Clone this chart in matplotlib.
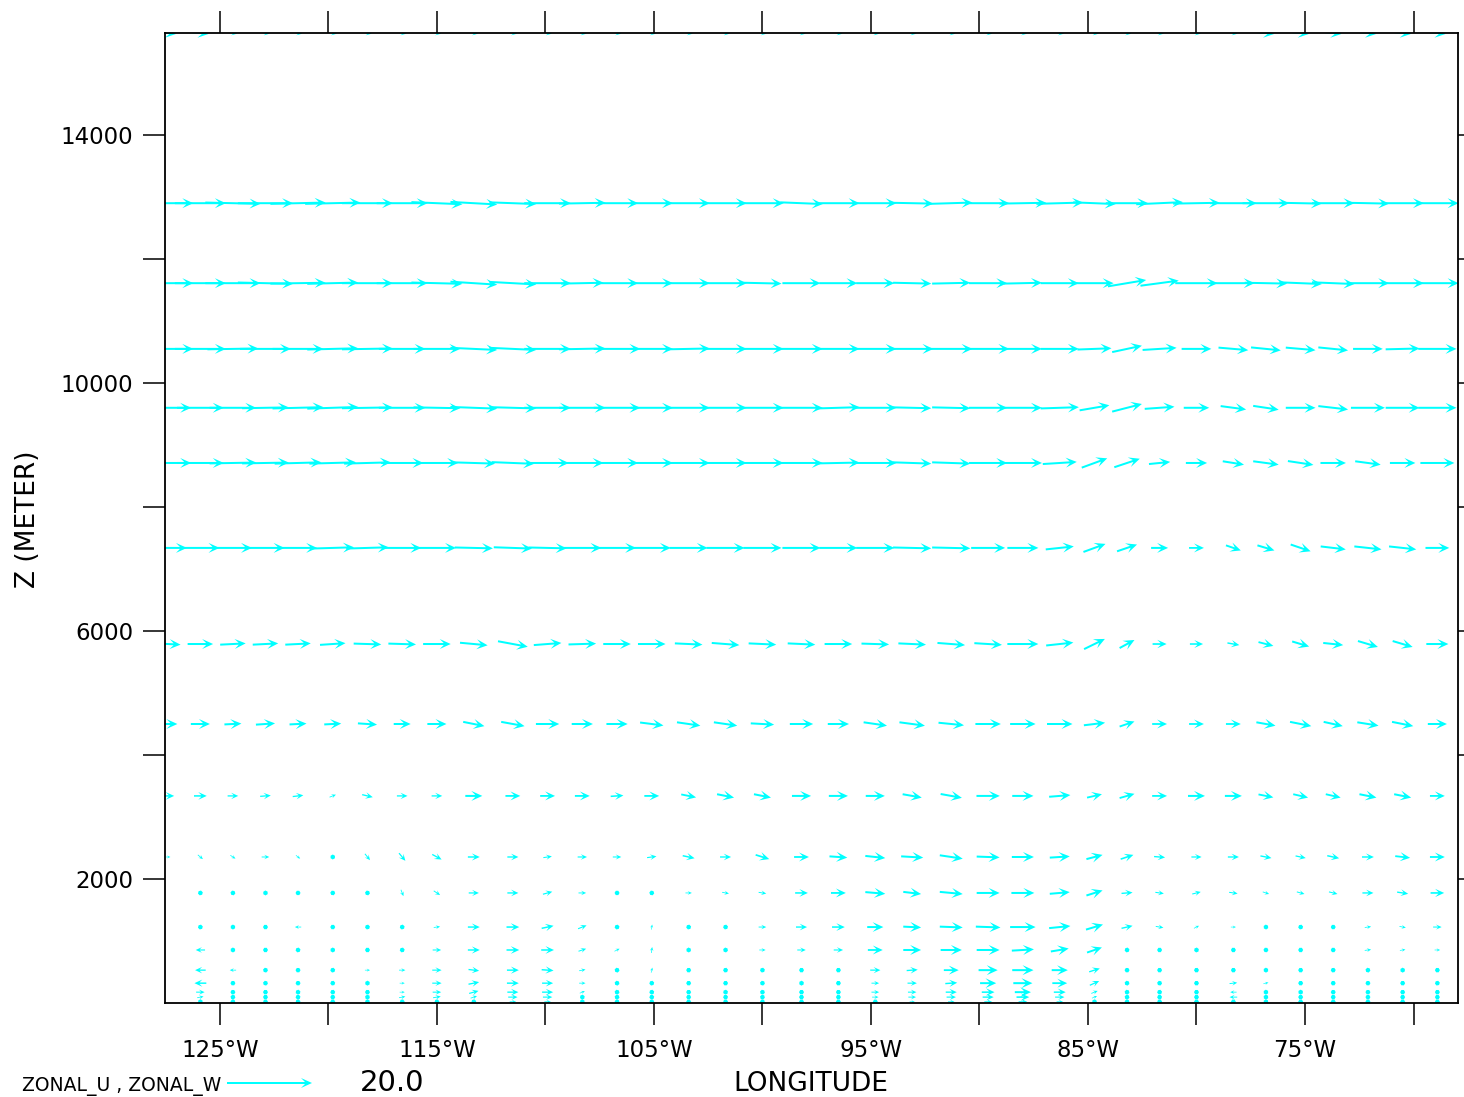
import matplotlib
matplotlib.use("Agg")
import matplotlib.pyplot as plt
from matplotlib.ticker import FixedLocator

nan = float("nan")

# longitude of each vector column (deg, negative = W)
lon = [-127.4, -125.9, -124.4, -122.9, -121.4, -119.8, -118.2, -116.6, -115.0,
       -113.3, -111.5, -109.9, -108.3, -106.7, -105.1, -103.4, -101.7, -100.0,
       -98.2, -96.5, -94.8, -93.1, -91.3, -89.6, -88.0, -86.3, -84.7, -83.2,
       -81.7, -80.0, -78.3, -76.8, -75.2, -73.7, -72.1, -70.5, -68.9]

# height of each vector row (m)
z_levels = [15645, 12900, 11610, 10550, 9600, 8710, 7340, 5790, 4500, 3340,
            2355, 1775, 1225, 855, 530, 320, 175, 95, 20]

# ZONAL_U per row (m/s); nan = no data drawn
u_rows = [
    [4, 4, 2, 2, 2, 2, 2, 2, 2, 2, 2, 2, 2, 2, 2, 2, 2, 2, 2, 2, 2, 2, 2, 2, 2, 2, 2, 2, 2, 2, 2, 4, 4, 4, 4, 4, 4],
    [12, 12, 13, 13, 13, 13, 12, 12, 12, 11, 11, 11, 11, 10, 10, 10, 10, 10, 10, 10, 10, 10, 10, 10, 11, 11, 10, 10, 11, 11, 11, 11, 10, 10, 10, 10, 10],
    [12, 12, 13, 13, 13, 12, 12, 12, 12, 11, 11, 11, 10, 10, 10, 10, 10, 9, 9, 9, 9, 9, 9, 9, 9, 9, 9, 9, 9, 10, 10, 10, 10, 10, 10, 10, 10],
    [12, 12, 12, 12, 12, 12, 12, 11, 11, 11, 11, 11, 11, 11, 10, 10, 10, 10, 10, 10, 10, 10, 10, 10, 9, 9, 8, 7, 8, 7, 7, 7, 7, 7, 7, 8, 9],
    [11, 11, 11, 11, 12, 12, 12, 11, 11, 11, 11, 11, 11, 11, 10, 10, 10, 10, 10, 10, 10, 9, 9, 9, 9, 9, 7, 7, 7, 6, 6, 6, 7, 7, 8, 8, 9],
    [11, 11, 11, 11, 11, 11, 11, 10, 10, 10, 10, 10, 10, 10, 10, 10, 10, 10, 10, 10, 10, 9, 9, 9, 9, 8, 6, 6, 5, 5, 5, 6, 6, 6, 6, 6, 8],
    [9, 9, 9, 9, 9, 10, 10, 9, 9, 9, 9, 9, 9, 9, 9, 9, 9, 9, 9, 9, 9, 9, 9, 8, 7.3, 6.6, 5.2, 4.7, 4, 3.5, 3.5, 4, 4.7, 5.9, 6.4, 6.4, 5.6],
    [6, 6, 6, 6, 6, 6, 6.5, 6.5, 6.5, 6.5, 7, 6.5, 6.5, 6.5, 6.5, 6.5, 6.5, 6.5, 6.5, 6.5, 6.5, 6.5, 6.5, 6.5, 7.3, 6.4, 4.9, 3.5, 3.3, 3.1, 2.8, 3.5, 4, 4.7, 4.7, 4.7, 5.2],
    [4.5, 4.5, 4, 4.5, 4, 4, 4.5, 4, 4.5, 5, 5.5, 5.5, 5, 5, 5.5, 5.5, 5.5, 5.5, 5.5, 5, 5.5, 6, 6, 6, 6, 6, 5, 3.5, 3.5, 3.5, 3.5, 4.5, 5, 4.5, 5, 5, 4.5],
    [3, 3, 2.5, 2.5, 2.5, 1.5, 2.5, 2.5, 2.5, 4, 3.5, 3.5, 3.5, 3, 3.5, 3.5, 4, 4, 4.5, 4.5, 4.5, 4.5, 5, 5.5, 5, 5, 3.5, 3.5, 3.5, 4, 4, 3.5, 3.5, 3.5, 4, 4, 3.5],
    [1.2, 1.2, 1.2, 1.8, 1, 1, 1.2, 1.5, 2.2, 2.8, 2.6, 2, 2.2, 2, 2.2, 2.8, 2.6, 3.2, 3.5, 4.2, 4.7, 5.2, 5.4, 5.4, 5.2, 4.7, 3.8, 3, 2.6, 2.4, 2.6, 2.6, 2.4, 2.8, 2.8, 3.5, 3.5],
    [nan, 0.8, 0.3, 0.8, 0.2, 0.6, 0.3, 0.6, 1.5, 2.4, 2.6, 2.2, 1.8, 0.8, 0.5, 1.5, 1.6, 1.8, 3, 3.5, 4.7, 4.2, 5.4, 5.4, 5.4, 4.7, 3.8, 2.6, 2, 2, 2, 1.5, 1.8, 2, 2.6, 2.6, 3.2],
    [nan, -0.5, 0, 0.1, -1.5, 0.1, 0.6, 0.7, 1.5, 2.8, 3, 2.8, 2, 1, 0.2, 0.8, 0.8, 1.8, 2.6, 3, 3.8, 4.2, 5.4, 5.8, 6, 5, 4, 2.6, 1.8, 1.2, 1.2, 0.8, 1, 0.8, 1.5, 1.5, 2],
    [nan, -2.2, 0.5, 0.8, 1, 0, 0.8, 1, 2, 2.8, 3, 3, 1.8, 1.2, 0.2, 0.6, 0.8, 1.5, 2, 2.2, 3.5, 4.2, 5, 5.4, 5.2, 4.2, 3.5, 0.8, 1, 1, 0.2, 0.3, 1, 0.6, 1.5, 1.3, 1.3],
    [nan, -2.5, -1.5, 0.5, 0.1, 0.3, 1.2, 1.5, 2.2, 2.5, 2.8, 2.8, 1.5, 0.8, 0.3, 0.1, 0.3, 0.5, 1, 1, 2.4, 2.6, 3.5, 4.5, 5, 3.8, 2.5, 0.8, 0.3, 0.3, 0.5, 0.5, 0.1, 0.3, 0.5, 0.5, 0.8],
    [nan, -2.8, 0.5, 0.5, 0.1, 0.3, 0.8, 1.2, 2.2, 2.5, 2.8, 2.6, 1.5, 0.6, 0.3, 0.1, 0.3, 0.4, 0.6, 1, 1.8, 2.2, 2.8, 3.8, 4.5, 3.5, 2.2, 0.8, 0.2, 0.1, 1.8, 1.2, 0.5, 0.3, 0.1, 0.8, 1],
    [nan, 2, -1, 0.3, 0.1, 0.4, 0.5, 1.2, 2, 2.2, 2.6, 2.6, 1.2, 0.5, 0.2, 0.1, 0.1, 0.4, 0.3, 0.6, 1.8, 2, 2.6, 3, 3.8, 2.8, 1.5, 0.5, 0.2, 0.1, -1.5, 0.8, -0.5, 0.1, 0.1, 0.6, 0.8],
    [nan, 1.5, 0.5, 0.2, 0.2, 0.5, 0.8, 1.5, 1.8, 1.5, 2.2, 2.2, 1, 0.4, 0.2, 0.1, 0.2, 0.3, 0.3, 0.5, 1.5, 1.8, 2.2, 2.6, 3, 2.2, 1.2, 0.4, 0.2, 0.1, -1.8, 0.6, 0.3, 0.1, 0.1, 0.5, 0.6],
    [nan, 1, 0.5, 0.1, 0.1, 0.3, 0.5, 1, 1, 1, 1.5, 1.5, 0.6, 0.3, 0.1, 0.1, 0.1, 0.2, 0.2, 0.3, 1, 1.2, 1.5, 1.8, 2, 1.5, 0.8, 0.3, 0.1, 0.1, -1, 0.4, 0.2, 0.1, 0.1, 0.3, 0.4],
]

# ZONAL_W per row (scaled, same arrow units as u)
w_rows = [
    [-0.4, -0.4, -0.3, -0.3, -0.3, -0.3, -0.3, -0.3, -0.3, -0.3, -0.3, -0.3, -0.3, -0.3, -0.3, -0.3, -0.3, -0.3, -0.3, -0.3, -0.3, -0.3, -0.3, -0.3, -0.3, -0.3, -0.3, -0.3, -0.3, -0.3, -0.3, -0.4, -0.4, -0.4, -0.4, -0.4, -0.4],
    [0, 0, -0.3, 0, 0.3, 0.3, 0, 0, -0.5, -0.6, -0.4, 0, 0.2, 0, 0, 0, 0, 0, -0.4, 0, 0, -0.2, 0.3, 0, 0.2, 0.3, -0.4, 0, 0.5, 0.2, 0, 0, -0.2, 0, -0.2, 0, 0],
    [0, 0, 0, -0.3, 0.2, 0.3, 0, 0, -0.3, -0.7, -0.6, 0, 0.2, 0, 0, 0, 0, -0.2, 0, 0, 0, -0.2, 0.2, 0, 0.2, 0, 0, 1.5, 1.2, 0, 0, -0.2, -0.4, -0.4, 0, 0, 0],
    [0, 0, 0.2, 0, 0, 0.3, 0.2, 0, 0, -0.5, -0.5, 0, 0.2, 0, 0, 0.2, 0, 0, 0, 0, 0, 0, 0, 0, 0, 0, 0.3, 1.5, 0.5, 0, -0.6, -0.7, -0.6, -0.7, 0, 0.2, 0],
    [0, 0, 0, 0.2, 0.3, 0.4, 0.2, 0, -0.2, -0.4, -0.3, 0, 0, 0, 0, 0, 0, 0, 0, 0.3, 0, -0.2, -0.2, 0, 0, 0.3, 1.2, 1.8, 0.5, 0, -0.8, -0.9, 0, -0.8, 0, 0, 0],
    [0, 0, 0.2, 0.2, 0.3, 0.3, 0.3, 0, 0, -0.3, -0.4, 0, 0, 0, 0, 0, 0, 0, 0, 0.2, 0, -0.3, -0.3, 0, 0, 0.5, 2.2, 2, 0.5, 0, -0.8, -0.8, -0.9, 0, -0.8, 0, 0],
    [0, 0, 0, 0, 0, 0.3, 0.3, 0, 0, -0.2, -0.3, -0.2, 0, 0, 0, 0, 0, 0, 0, 0, 0, -0.2, -0.2, 0, 0, 0.7, 1.9, 1.6, 0, 0, -1.2, -1.2, -1.6, -0.7, -0.7, -0.7, 0],
    [-0.3, 0, 0.3, 0.3, 0.3, 0.4, -0.2, -0.2, 0, -0.6, -1.3, 0.5, 0.2, 0, 0, -0.3, -0.5, -0.3, -0.3, 0, -0.2, -0.3, -0.5, -0.4, 0, 0.7, 2.4, 1.9, 0, 0, -0.5, -0.9, -1.2, -0.5, -1.4, -1.4, 0],
    [0, 0, 0.2, 0.3, 0.2, 0.2, -0.3, 0, 0, -1, -1, 0, 0, 0, -0.7, -0.8, -0.8, -0.3, 0, 0, -0.8, -0.8, -0.6, 0, 0, 0, 0.6, 1.2, 0, 0, 0, -0.8, -1, -1, -0.8, -1, 0],
    [0, 0, 0, 0.2, 0.3, 0.6, -0.6, 0, 0, 0, 0, 0, 0, 0.2, 0, -0.7, -0.8, -0.8, 0, 0, 0, -0.8, -0.9, 0, 0, 0.4, 0.8, 1, 0, 0, 0, -0.7, -0.8, -0.8, -0.8, -0.8, 0],
    [0, -1, -0.8, 0, -0.8, -0.6, -1.5, -1.8, -1.2, 0, 0, 0.3, 0, 0, 0.3, -0.6, 0, -1, 0, -0.3, -0.5, -0.3, -0.8, -0.2, 0, 0.3, 1, 1, -0.2, 0, 0, -0.5, -0.5, -0.6, 0, -0.4, 0],
    [nan, -0.8, -0.8, 0.5, 0, 0.8, -1, -1.5, -1, 0, 0, 0.6, 0, 0, 0.6, 0, -0.3, -0.3, 0, 0, -0.4, -0.5, -0.5, 0, 0, 0.4, 1.2, 0.2, -0.3, 0.5, -0.3, -0.5, -0.5, -0.5, 0, -0.4, 0],
    [nan, 0.5, -0.3, 0, 0, 0, -0.6, -0.6, 0.2, 0, 0, 0.6, 0.8, 0.2, 1.2, 0.2, 0.2, 0, 0, 0, 0, -0.2, -0.2, -0.2, 0, 0.5, 1.2, 0.6, -0.3, 0.6, 0, -0.4, 0.2, 0, 0.2, -0.3, 0],
    [nan, 0, 0.3, 0, 0.2, 1, 0, 0.2, 0, 0, 0, 0, 0.6, 0.6, 1.4, -0.3, -0.3, 0, 0, 0, 0, 0, 0, 0, 0.3, 0.7, 1.2, 0.3, 0, 0.4, 0, -0.6, 0, 0, 0.2, 0.2, 0],
    [nan, 0, 0, 0.5, 0, 1, 0, 0, 0, -0.3, 0, -0.2, 0.3, 0.8, 1.2, 0, 0.8, -0.5, 0, 0, 0, 0.2, 0, 0, 0, 0, 0.8, 0, 0.5, 0.6, 0, 0.3, 0, 0.6, 0.5, 0.3, 0],
    [nan, 0, 0, 0.5, 0, 0.8, -0.5, 0, 0, 0.5, 0, 0, 0, 0.5, 1, 0, 0.6, 0.4, -0.4, 0, 0, 0, 0.2, 0, 0, 0, 1, -0.3, -0.6, 0, 0.2, 0.3, 0, -0.5, 0, 0, 0.2],
    [nan, 0, 0, 0.5, 0.8, 1, 0.8, 0, 0, 0.6, 0, 0, 0.5, 0.5, 0.8, 0, 0.6, 0.4, 0, 0, 0, 0, 0, 0, 0, 0, 0.6, 0.5, 0.6, 0, 0, 0.5, -0.3, 0, 0, 0, 0],
    [nan, 0.3, 0.5, 0.3, 0.6, 0.8, 0.6, 0.3, 0.3, 0.5, 0, 0, 0.4, 0.4, 0.6, 0, 0.5, 0.3, 0, 0, 0, 0, 0, 0, 0, 0, 0.5, 0.4, 0.5, 0, 0, 0.4, 0, 0, 0, 0, 0],
    [nan, 0.5, 0.5, 0.3, 0.4, 0.5, 0.4, 0.2, 0.2, 0.3, 0, 0, 0.3, 0.3, 0.4, 0, 0.3, 0.2, 0, 0, 0, 0, 0, 0, 0, 0, 0.3, 0.3, 0.3, 0, 0, 0.3, 0, 0, 0, 0, 0],
]

lon_ticks = [-125, -120, -115, -110, -105, -100, -95, -90, -85, -80, -75, -70]
lon_labels = ["125°W", "", "115°W", "", "105°W", "", "95°W", "", "85°W", "", "75°W", ""]
z_ticks = [2000, 4000, 6000, 8000, 10000, 12000, 14000]
z_labels = ["2000", "", "6000", "", "10000", "", "14000"]
key_speed = 20.0

plt.rcParams['font.family'] = ['DejaVu Sans']

fig = plt.figure(figsize=(14.64, 10.97), dpi=100)
ax = fig.add_axes([165/1464, 1 - 1003/1097, 1293/1464, 970/1097])

X, Z, U, W = [], [], [], []
for zi, uu, ww in zip(z_levels, u_rows, w_rows):
    for xi, a, b in zip(lon, uu, ww):
        X.append(xi); Z.append(zi); U.append(a); W.append(b)

q = ax.quiver(X, Z, U, W, color="#00ffff", angles="uv", pivot="middle",
              scale_units="inches", scale=key_speed / 0.85,
              units="inches", width=0.02, headwidth=5, headlength=5.5,
              headaxislength=3.5, minlength=2.5, minshaft=1.5)

ax.set_xlim(-127.53, -67.95)
ax.set_ylim(0, 15645)

ax.xaxis.set_major_locator(FixedLocator(lon_ticks))
ax.set_xticklabels(lon_labels)
ax.yaxis.set_major_locator(FixedLocator(z_ticks))
ax.set_yticklabels(z_labels)
ax.tick_params(which="both", direction="out", length=15.8, width=1.1,
               top=True, right=True, labelsize=16.5)
ax.tick_params(axis="x", pad=10)
ax.tick_params(axis="y", pad=7)
for s in ax.spines.values():
    s.set_linewidth(1.3)

fig.text(811/1464, 1 - 1084/1097, "LONGITUDE", fontsize=19,
         ha="center", va="center")
fig.text(28/1464, 1 - 519/1097, "Z (METER)", fontsize=19, rotation=90,
         ha="center", va="center")

ax.quiverkey(q, 312/1464, 1 - 1083/1097, key_speed, "20.0", labelpos="E",
             coordinates="figure", labelsep=0.48,
             fontproperties={"size": 21})
fig.text(22/1464, 1 - 1086/1097, "ZONAL_U , ZONAL_W", fontsize=13.5,
         ha="left", va="center")

fig.savefig("out.png", dpi=100)
